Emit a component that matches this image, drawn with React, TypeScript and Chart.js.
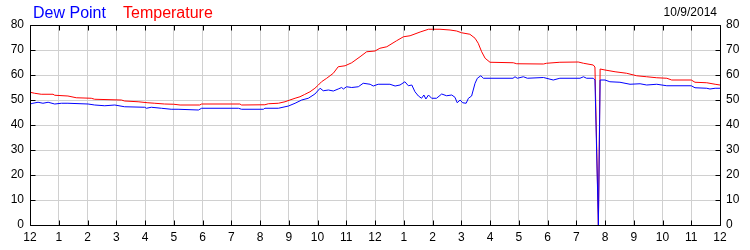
import React, { useEffect, useRef } from "react";
import { Chart, registerables } from "chart.js";

Chart.register(...registerables);

const hourLabels = ["12","1","2","3","4","5","6","7","8","9","10","11","12","1","2","3","4","5","6","7","8","9","10","11","12"];
const yTicks = [0, 10, 20, 30, 40, 50, 60, 70, 80];

const tempHours = [0,0.16,0.39,0.8,0.86,1.32,1.61,2.13,2.25,3.18,3.29,3.76,4.1,4.34,4.68,5.0,5.22,5.9,5.97,7.3,7.36,8.17,8.29,8.64,8.87,9.04,9.22,9.39,9.55,9.74,9.91,10.03,10.14,10.32,10.55,10.72,10.96,11.19,11.48,11.71,12.0,12.17,12.41,12.75,12.99,13.22,13.57,13.86,14.26,14.61,14.84,15.01,15.3,15.48,15.59,15.71,15.83,16.0,16.81,16.93,17.86,17.97,18.43,19.07,19.25,19.59,19.65,19.77,19.83,20.0,20.35,20.75,21.1,21.45,21.8,22.15,22.32,23.0,23.13,23.54,23.83,24.0];
const tempValues = [53.1,52.7,52.3,52.3,51.9,51.6,50.9,50.7,50.3,50.0,49.6,49.3,48.9,48.7,48.4,48.3,48.0,48.0,48.4,48.4,48.0,48.1,48.5,48.7,49.3,50.0,50.7,51.3,52.2,53.3,54.7,56.0,57.3,58.7,60.7,63.3,63.7,64.9,67.3,69.3,69.6,70.7,71.3,73.7,75.3,75.7,77.2,78.3,78.3,78.0,77.6,76.9,76.3,74.7,72.7,69.3,66.7,65.1,64.9,64.5,64.4,64.7,65.1,65.2,64.7,64.0,63.2,0,62.4,62.0,61.3,60.7,59.7,59.3,58.9,58.7,58.0,58.0,57.1,56.9,56.3,56.0];

const dewHours = [0,0.1,0.28,0.45,0.63,0.86,1.09,1.32,2.02,2.25,2.6,2.95,3.29,3.99,4.05,4.22,4.57,4.91,5.15,5.86,5.97,7.25,7.36,8.12,8.17,8.64,8.99,9.22,9.45,9.68,9.91,10.09,10.2,10.38,10.55,10.72,10.84,10.9,11.01,11.19,11.42,11.59,11.83,11.94,12.11,12.52,12.7,12.87,13.04,13.16,13.28,13.39,13.51,13.62,13.7,13.77,13.86,13.97,14.14,14.32,14.49,14.67,14.78,14.86,14.96,15.05,15.17,15.25,15.36,15.48,15.56,15.68,15.77,16.8,16.87,16.95,17.16,17.3,17.86,18.2,18.43,19.13,19.25,19.36,19.59,19.65,19.77,19.83,20.0,20.17,20.52,20.87,21.22,21.45,21.8,22.15,23.0,23.13,23.54,23.65,23.83,24.0];
const dewValues = [48.4,48.7,49.1,48.7,49.1,48.4,48.7,48.7,48.4,48.0,47.7,48.0,47.3,47.1,46.7,47.1,46.7,46.3,46.3,46.0,46.7,46.7,46.3,46.3,46.7,46.7,47.6,48.7,50.0,50.7,52.4,54.7,53.7,54.0,53.6,54.4,55.0,54.4,55.3,55.0,55.3,56.7,56.3,55.6,56.3,56.3,55.6,56.0,57.3,55.7,56.0,53.3,51.6,50.7,52.0,50.4,52.0,50.7,50.7,52.4,51.7,52.0,51.1,48.9,50.0,48.9,48.7,50.7,51.6,56.7,58.7,59.7,58.7,58.7,59.3,58.7,59.3,58.7,59.0,58.0,58.7,58.7,59.3,58.7,58.7,58.0,0,58.0,58.0,57.3,57.1,56.3,56.5,56.0,56.3,55.7,55.7,54.9,54.7,54.4,54.7,54.7];

const FONT = "'Liberation Sans', Arial, sans-serif";

const framePlugin = {
  id: "frame",
  afterDraw(chart: any) {
    const { ctx, chartArea } = chart;
    const l = Math.round(chartArea.left) + 0.5;
    const r = Math.round(chartArea.right) + 0.5;
    const t = Math.round(chartArea.top) + 0.5;
    const b = Math.round(chartArea.bottom) + 0.5;
    ctx.save();
    ctx.strokeStyle = "#000";
    ctx.lineWidth = 1;
    ctx.beginPath();
    ctx.rect(l, t, r - l, b - t);
    const ys = chart.scales.y;
    yTicks.forEach((v) => {
      const p = Math.round(ys.getPixelForValue(v)) + 0.5;
      ctx.moveTo(l, p); ctx.lineTo(l + 5, p);
      ctx.moveTo(r, p); ctx.lineTo(r - 5, p);
    });
    const xs = chart.scales.x;
    hourLabels.forEach((_, i) => {
      const p = Math.round(xs.getPixelForValue(i)) + 0.5;
      ctx.moveTo(p, b); ctx.lineTo(p, b - 5);
      ctx.moveTo(p, t); ctx.lineTo(p, t + 5);
    });
    ctx.stroke();
    ctx.restore();
  },
};

export default function App() {
  const ref = useRef<HTMLCanvasElement>(null);
  useEffect(() => {
    document.body.style.margin = "0";
    const tickFont = { family: FONT, size: 12 };
    const chart = new Chart(ref.current!, {
      type: "line",
      data: {
        datasets: [
          {
            label: "Dew Point",
            data: dewHours.map((h, i) => ({ x: h, y: dewValues[i] })),
            borderColor: "#0000ff",
            borderWidth: 1,
            pointRadius: 0,
            tension: 0,
            yAxisID: "y",
          },
          {
            label: "Temperature",
            data: tempHours.map((h, i) => ({ x: h, y: tempValues[i] })),
            borderColor: "#ff0000",
            borderWidth: 1,
            pointRadius: 0,
            tension: 0,
            yAxisID: "y",
          },
        ],
      },
      options: {
        animation: false,
        responsive: false,
        devicePixelRatio: 1,
        layout: { padding: { top: 25, left: 0, right: 0, bottom: 0 } },
        plugins: { legend: { display: false }, tooltip: { enabled: false } },
        scales: {
          x: {
            type: "linear",
            min: 0,
            max: 24,
            afterFit: (s: any) => { s.height = 25; },
            ticks: {
              stepSize: 1,
              autoSkip: false,
              maxRotation: 0,
              color: "#000",
              font: tickFont,
              padding: 5,
              callback: (v: any) => hourLabels[v],
            },
            grid: { color: "#d0d0d0", drawTicks: false },
            border: { display: false },
          },
          y: {
            position: "left",
            min: 0,
            max: 80,
            afterFit: (s: any) => { s.width = 30; },
            ticks: { stepSize: 10, color: "#000", font: tickFont, padding: 6 },
            grid: { color: "#d0d0d0", drawTicks: false },
            border: { display: false },
          },
          y2: {
            position: "right",
            min: 0,
            max: 80,
            afterFit: (s: any) => { s.width = 30; },
            ticks: { stepSize: 10, color: "#000", font: tickFont, padding: 6 },
            grid: { drawOnChartArea: false, drawTicks: false },
            border: { display: false },
          },
        },
      },
      plugins: [framePlugin],
    } as any);
    return () => chart.destroy();
  }, []);

  return (
    <div style={{ position: "relative", width: 750, height: 250, background: "#fff" }}>
      <canvas ref={ref} width={750} height={250} style={{ display: "block" }} />
      <div style={{ position: "absolute", left: 33, top: 5, font: `16px/16px ${FONT}`, color: "#0000ff", whiteSpace: "nowrap" }}>Dew Point</div>
      <div style={{ position: "absolute", left: 123, top: 5, font: `16px/16px ${FONT}`, color: "#ff0000", whiteSpace: "nowrap" }}>Temperature</div>
      <div style={{ position: "absolute", right: 33, top: 6, font: `12px/12px ${FONT}`, color: "#000", whiteSpace: "nowrap" }}>10/9/2014</div>
    </div>
  );
}
